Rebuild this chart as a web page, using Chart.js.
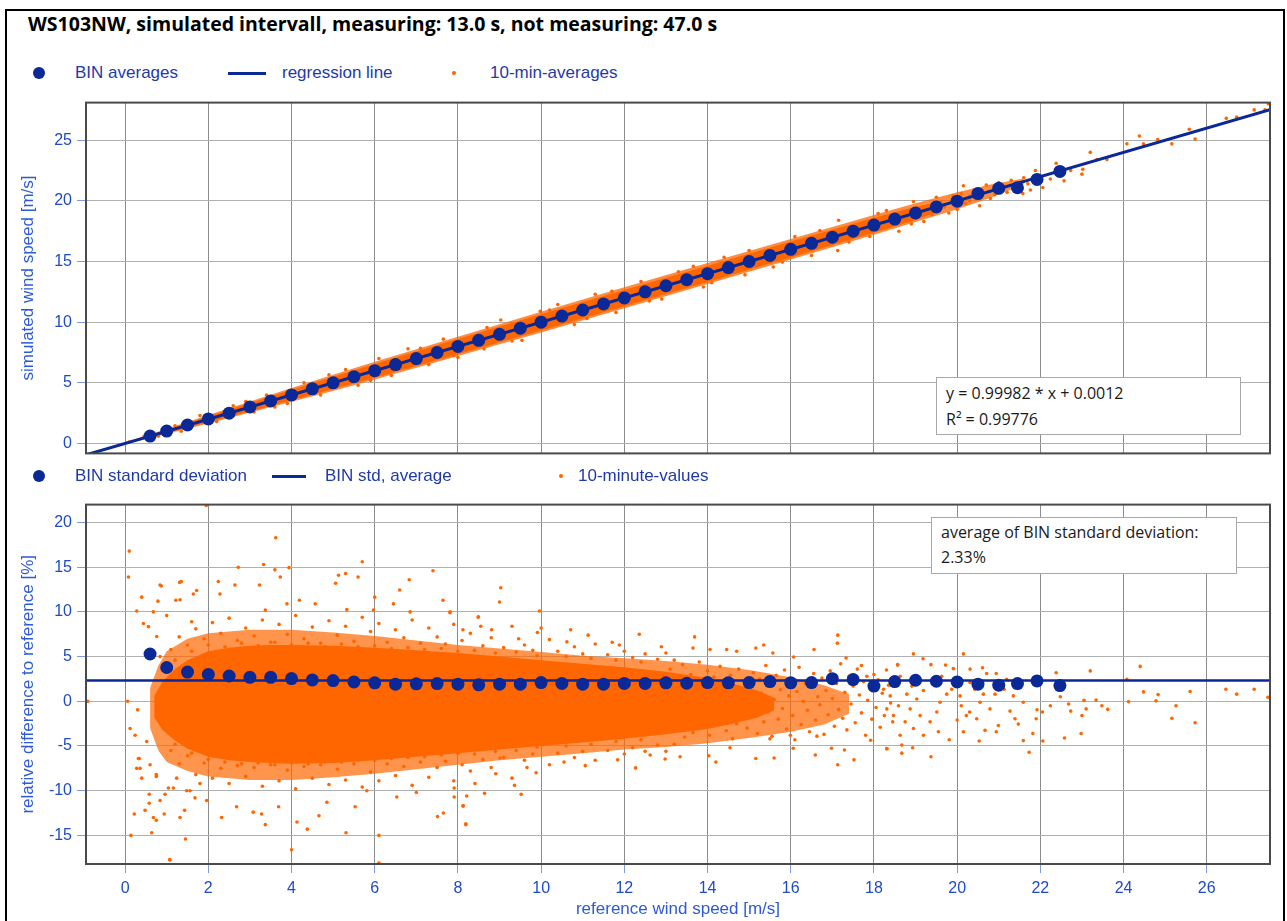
<!DOCTYPE html>
<html lang="en">
<head>
<meta charset="UTF-8">
<title>WS103NW simulated intervall</title>
<script src="https://cdn.jsdelivr.net/npm/chart.js"></script>
<style>
  body { margin: 0; background: #fff; font-family: "Liberation Sans", Arial, sans-serif; }
  #page { position: relative; width: 1287px; height: 921px; overflow: hidden; }
  #frame { position: absolute; left: 5px; top: 9px; width: 1276px; height: 940px; border: 2px solid #000; }
  #title { position: absolute; left: 28px; top: 11px; font: bold 19.5px "Open Sans", sans-serif; line-height: 26px; color: #000; white-space: nowrap; }
  canvas { position: absolute; left: 0; }
  .lg { position: absolute; font-size: 17px; line-height: 20px; color: #1f3aa8; white-space: nowrap; }
  .sym { position: absolute; }
  .dot { width: 12px; height: 12px; border-radius: 50%; background: #0a2896; }
  .bar { height: 3px; background: #0a2896; }
  .small { width: 4px; height: 4px; border-radius: 50%; background: #ff6600; }
  .box { position: absolute; box-sizing: border-box; background: #fff; border: 1px solid #a8a8a8;
         font: 16px "Open Sans", sans-serif; color: #1a1a1a; padding: 2px 9px; z-index: 5; }
</style>
</head>
<body>
<div id="page">
  <div id="frame"></div>
  <div id="title">WS103NW, simulated intervall, measuring: 13.0 s, not measuring: 47.0 s</div>

  <canvas id="topChart" width="1287" height="380" style="top:88px"></canvas>
  <canvas id="bottomChart" width="1287" height="431" style="top:490px"></canvas>

  <!-- legend, top panel -->
  <div class="sym dot" style="left:33px;top:67px"></div>
  <div class="lg" style="left:75px;top:63px">BIN averages</div>
  <div class="sym bar" style="left:228px;top:72px;width:38px"></div>
  <div class="lg" style="left:282px;top:63px">regression line</div>
  <div class="sym small" style="left:452px;top:71px"></div>
  <div class="lg" style="left:490px;top:63px">10-min-averages</div>

  <!-- legend, bottom panel -->
  <div class="sym dot" style="left:33px;top:470px"></div>
  <div class="lg" style="left:75px;top:466px">BIN standard deviation</div>
  <div class="sym bar" style="left:272px;top:475px;width:34px"></div>
  <div class="lg" style="left:325px;top:466px">BIN std, average</div>
  <div class="sym small" style="left:559px;top:474px"></div>
  <div class="lg" style="left:578px;top:466px">10-minute-values</div>

  <div class="box" style="left:936px;top:377px;width:305px;height:58px;line-height:26px">
    y = 0.99982 * x + 0.0012<br>R² = 0.99776
  </div>
  <div class="box" style="left:931px;top:517px;width:306px;height:57px;line-height:25px">
    average of BIN standard deviation:<br>2.33%
  </div>
</div>

<script>
// ---- data ----
var binRefSpeed = [0.6, 1.0, 1.5, 2.0, 2.5, 3.0, 3.5, 4.0, 4.5, 5.0, 5.5, 6.0, 6.5, 7.0, 7.5, 8.0, 8.5, 9.0, 9.5, 10.0,
    10.5, 11.0, 11.5, 12.0, 12.5, 13.0, 13.5, 14.0, 14.5, 15.0, 15.5, 16.0, 16.5, 17.0, 17.5, 18.0, 18.5, 19.0,
    19.5, 20.0, 20.5, 21.0, 21.45, 21.92, 22.47];
var binSimAverage = [0.61, 1.02, 1.52, 2.02, 2.5, 3.01, 3.5, 4.0, 4.5, 5.0, 5.5, 6.0, 6.5, 7.0, 7.5, 8.0, 8.5, 9.0, 9.5, 10.0,
    10.5, 11.0, 11.5, 12.0, 12.5, 13.0, 13.5, 14.0, 14.5, 15.0, 15.5, 16.0, 16.5, 17.0, 17.5, 18.0, 18.5, 19.0,
    19.5, 19.97, 20.6, 21.03, 21.08, 21.77, 22.43];
var binStdDev = [5.29, 3.78, 3.27, 3.01, 2.83, 2.68, 2.68, 2.54, 2.39, 2.32, 2.17, 2.06, 1.91, 1.95, 1.98, 1.91, 1.84,
    1.91, 1.91, 2.09, 2.0, 1.91, 1.91, 2.0, 2.0, 2.06, 2.02, 2.09, 2.06, 2.09, 2.2, 2.06, 2.09, 2.53, 2.43, 1.7,
    2.2, 2.35, 2.24, 2.17, 1.91, 1.8, 1.98, 2.28, 1.76];
var regLineX = [-0.94, 27.52];
var regLineY = [-0.94, 27.51];
var stdAvgX = [-0.94, 27.52];
var stdAvgY = [2.33, 2.33];

// top panel: solid band and its speckled fringe of 10-min averages
var bandCoreSpeed = [0.3, 1.0, 2.0, 3.0, 4.0, 5.0, 6.0, 7.0, 8.0, 9.0, 10.0, 11.0, 12.0, 13.0, 14.0, 15.0, 16.0, 17.0, 18.0, 19.0, 19.6];
var bandCoreUpper = [0.34, 1.12, 2.24, 3.33, 4.42, 5.5, 6.56, 7.6, 8.62, 9.64, 10.66, 11.66, 12.66, 13.66, 14.66, 15.64, 16.64, 17.62, 18.6, 19.52, 19.9];
var bandCoreLower = [0.26, 0.86, 1.74, 2.64, 3.56, 4.48, 5.42, 6.38, 7.36, 8.34, 9.32, 10.32, 11.32, 12.32, 13.32, 14.34, 15.34, 16.36, 17.38, 18.42, 19.2];
var bandFringeSpeed = [0.15, 1.0, 2.0, 3.0, 4.0, 5.0, 6.0, 8.0, 10.0, 12.0, 14.0, 16.0, 18.0, 19.0, 20.0, 20.8, 21.6];
var bandFringeUpper = [0.22, 1.22, 2.34, 3.45, 4.57, 5.67, 6.74, 8.8, 10.85, 12.87, 14.87, 16.86, 18.84, 19.8, 20.7, 21.35, 21.85];
var bandFringeLower = [0.08, 0.77, 1.64, 2.55, 3.43, 4.33, 5.27, 7.2, 9.15, 11.14, 13.14, 15.16, 17.2, 18.25, 19.3, 20.25, 21.35];

// single 10-min averages outside the dense band (top panel)
var minAvgPoints = [[0.1,0.12],[0.45,0.55],[0.8,0.6],[1.2,1.45],[1.35,1.0],[1.8,2.3],[2.2,1.8],[2.6,3.1],[3.1,2.6],
    [3.4,4.0],[3.9,3.3],[4.3,5.0],[4.7,4.0],[5.3,6.1],[5.6,4.8],[6.1,7.0],[6.4,5.6],[6.8,7.8],[7.3,6.5],[7.65,8.6],
    [8.0,7.1],[8.63,7.8],[9.03,10.18],[9.54,8.5],[9.98,10.9],[10.4,11.45],[10.8,9.8],[11.3,12.3],[11.8,10.8],
    [12.4,13.35],[12.9,11.9],[13.66,14.6],[13.9,12.9],[14.4,15.35],[14.9,13.9],[15.58,14.55],[16.1,17.05],
    [16.5,15.5],[17.15,18.4],[17.13,15.9],[17.9,17.06],[18.3,19.2],[18.6,17.5],[18.95,19.95],[19.2,18.3],
    [19.5,20.3],[19.8,19.0],[20.15,21.25],[20.0,19.3],[20.3,20.0],[20.4,20.9],[20.54,19.6],[20.7,21.3],[20.8,20.2],
    [21.0,21.5],[21.2,20.7],[21.58,20.6],[21.76,20.9],[21.88,22.5],[22.06,21.1],[22.24,21.8],[22.38,23.1],
    [22.57,21.65],[22.73,22.5],[23.0,22.2],[23.02,22.6],[23.2,24.0],[23.36,23.4],[23.6,23.4],[24.08,24.7],
    [24.38,25.35],[24.48,24.7],[24.82,25.05],[25.16,24.7],[25.58,25.9],[25.72,25.1],[26.47,26.8],[26.72,26.9],
    [27.14,27.5],[27.4,27.5],[27.48,28.0],[19.3,19.6],[19.6,19.9],[19.9,20.4],[20.1,20.6],[20.3,20.4],[20.6,20.9],
    [20.9,21.2],[21.1,21.0],[21.3,21.7],[21.4,21.3],[21.6,21.9],[21.7,21.4],[19.7,19.5],[19.4,18.9],[20.2,19.8],
    [20.9,20.5],[2.9,3.45],[3.6,3.0],[4.9,5.65],[5.9,5.2],[7.1,7.85],[7.9,7.25],[8.7,9.55],[9.3,8.45],[10.2,11.0],
    [11.1,10.3],[11.7,12.55],[12.6,11.75],[13.3,14.15],[14.1,13.25],[15.0,15.9],[15.8,14.95],[16.7,17.55],[17.4,16.6],
    [18.1,18.95],[18.9,18.1]];

// bottom panel: solid core and dense speckle zone of the 10-minute values
var coreSpeed = [0.7, 0.9, 1.2, 1.5, 2.0, 2.5, 3.0, 3.5, 4.0, 5.0, 6.0, 7.0, 8.0, 9.0, 10.0, 11.0, 12.0, 13.0, 14.0, 14.6, 15.2, 15.6];
var coreUpper = [0.6, 2.2, 3.6, 4.6, 5.6, 6.0, 6.2, 6.3, 6.3, 6.2, 6.0, 5.7, 5.4, 5.0, 4.6, 4.2, 3.8, 3.3, 2.6, 2.0, 1.2, 0.4];
var coreLower = [-1.8, -3.2, -4.4, -5.3, -6.2, -6.6, -6.8, -6.9, -7.0, -6.9, -6.6, -6.2, -5.8, -5.4, -5.0, -4.6, -4.2, -3.7, -3.1, -2.5, -1.8, -1.0];
var denseSpeed = [0.6, 0.8, 1.0, 1.5, 2.0, 3.0, 4.0, 5.0, 6.0, 7.0, 8.0, 9.0, 10.0, 11.0, 12.0, 13.0, 14.0, 15.0, 16.0, 16.8, 17.4];
var denseUpper = [1.5, 4.0, 5.6, 7.0, 7.6, 8.0, 8.0, 7.7, 7.3, 6.8, 6.3, 5.9, 5.5, 5.1, 4.8, 4.5, 4.1, 3.5, 2.7, 1.8, 0.8];
var denseLower = [-3.0, -5.5, -6.8, -7.8, -8.4, -8.8, -8.8, -8.5, -8.1, -7.6, -7.1, -6.6, -6.2, -5.8, -5.4, -5.1, -4.7, -4.1, -3.4, -2.6, -1.4];

// single 10-minute values (bottom panel)
var minuteValuePoints = [
    [-0.9,0],[0.06,0],[0.1,16.8],[0.08,13.9],[0.14,-15.0],[0.22,-12.6],[0.4,11.65],[0.28,10.1],[0.87,12.9],[1.35,13.4],
    [1.08,-17.75],[1.45,-15.4],[0.12,-3.05],[0.24,-3.8],[0.3,-0.96],[0.52,-4.5],[0.32,-6.4],[0.36,-7.5],[0.48,-12.2],
    [0.58,-10.4],[0.68,-13.0],[0.44,8.7],[0.68,10.0],[0.79,11.2],[0.56,8.35],[0.76,7.25],[0.84,5.0],[0.75,-8.2],
    [0.84,-11.1],[0.96,-10.4],[1.16,-9.7],[1.32,-13.0],[1.48,-10.0],[1.22,11.3],[1.64,12.0],[1.6,8.9],[1.0,9.6],
    [1.95,21.9],[3.62,18.3],[2.72,15.0],[3.33,15.3],[3.6,14.7],[3.94,14.95],[5.7,15.6],[7.4,14.6],[5.3,14.3],
    [5.13,14.1],[3.73,13.9],[5.6,13.9],[6.83,13.6],[2.24,13.4],[0.84,13.0],[1.31,13.3],[2.64,13.0],[3.23,13.0],
    [5.06,13.2],[6.6,12.45],[7.64,11.3],[6.0,11.65],[4.19,11.3],[1.72,12.4],[1.32,11.35],[2.28,12.0],[4.57,10.9],
    [5.97,10.2],[6.85,10.0],[7.81,10.0],[8.49,9.45],[6.45,10.9],[3.37,10.2],[3.89,10.9],[5.33,10.25],
    [1.07,-17.7],[4.0,-16.6],[6.1,-18.1],[6.1,-15.0],[5.31,-14.7],[3.37,-13.8],[4.38,-14.3],[8.19,-13.7],[0.64,-14.7],
    [0.75,-13.3],[0.58,-11.4],[0.94,-12.6],[1.43,-12.2],[2.32,-13.0],[2.68,-11.8],[3.08,-12.4],[3.28,-12.6],
    [3.69,-11.8],[4.13,-13.5],[4.66,-12.8],[4.85,-11.3],[5.53,-11.8],[7.51,-12.9],[7.65,-12.5],[8.12,-11.7],
    [5.81,-10.0],[7.0,-10.2],[6.53,-10.7],[8.21,-10.6],[1.68,-10.8],[1.96,-11.1],[0.34,-6.4],[0.28,-7.5],[0.4,-8.6],
    [0.6,-7.1],[0.75,-8.4],[1.04,-9.7],[1.24,-8.6],[1.56,-10.0],[1.8,-9.2],
    [9.03,12.7],[9.0,11.1],[9.96,10.1],[7.81,9.9],[8.49,9.4],[8.55,8.4],[8.81,8.0],[8.12,8.0],[10.0,8.2],[9.91,7.7],
    [10.71,8.0],[11.13,7.4],[12.36,7.5],[13.69,7.2],[10.62,6.65],[9.46,7.0],[11.71,6.6],[11.88,6.3],[12.89,6.1],
    [13.65,5.95],[15.16,5.95],[15.35,6.3],[17.13,7.4],[17.12,6.5],[16.56,5.8],[17.33,4.85],[16.07,4.95],[15.57,5.4],
    [18.57,4.1],[17.7,4.0],[14.06,5.8],[14.46,5.8],[14.7,5.6],[17.83,2.8],
    [8.19,-13.8],[8.13,-11.7],[7.91,-10.7],[7.91,-9.7],[8.64,-10.3],[9.52,-10.4],[9.36,-9.4],[8.41,-9.2],[8.91,-8.1],
    [9.88,-8.0],[9.66,-7.4],[12.27,-7.45],[11.06,-7.2],[11.84,-6.55],[12.98,-6.45],[14.2,-6.8],[14.03,-6.1],
    [15.16,-6.4],[15.6,-6.35],[16.59,-6.0],[17.13,-7.1],[17.52,-6.55],[16.98,-5.25],[17.29,-5.45],[18.31,-5.3],
    [16.06,-5.25],[14.54,-5.2],[13.34,-6.2],[12.62,-6.0],[10.55,-6.8],[9.01,-6.35],[17.92,-4.35],[18.67,-4.9],
    [16.63,-3.9],[15.99,-3.8],[15.5,-4.2],
    [18.95,5.3],[19.18,4.75],[20.15,5.3],[18.57,4.05],[19.37,4.1],[19.72,4.05],[19.91,3.65],[20.31,3.6],[20.61,3.75],
    [20.71,3.1],[20.94,3.1],[21.19,2.45],[22.38,3.2],[23.2,3.4],[24.4,3.9],[24.08,2.45],[24.48,1.05],[24.83,0.75],
    [25.6,1.1],[26.46,1.35],[26.72,0.8],[27.14,1.35],[27.47,0.45],[24.12,-0.05],[24.78,0.05],[25.26,-0.5],
    [25.16,-1.9],[25.72,-2.4],[23.62,-0.9],[23.34,0.15],[23.05,0.1],[23.0,-1.6],[22.98,-3.6],[23.1,-0.85],
    [23.48,-0.5],[22.58,-4.1],[22.06,-4.45],[21.73,-5.7],[19.37,-6.2],[18.67,-5.8],[18.93,-5.2],[18.31,-5.3],
    [20.53,-4.45],[19.81,-4.3],[21.59,-4.4],[22.48,0.5],[22.68,-0.3],[22.73,-1.1],[22.24,-0.5],[22.05,-1.2],
    [21.9,-1.95],[21.92,-0.95],[21.82,-3.6],[21.47,-2.55],[21.39,-1.95],[21.27,-1.1],[20.94,-3.4],[20.99,-2.7],
    [20.67,-3.25],[20.47,-1.95],[20.22,-1.6],[20.1,-0.5],[20.0,-2.1],[20.15,-3.4],[20.3,-1.2],[20.55,-0.1],
    [20.79,-0.85],[21.13,1.35],[20.91,0.8],[20.42,1.35],[20.63,0.8],[20.07,0.6],[19.87,1.35],[19.75,0.8],
    [19.59,-0.1],[19.51,-1.2],[19.35,-2.3],[19.55,-3.4],[19.19,-3.8],[18.95,-3.05],[18.63,-3.8],[18.75,-2.3],
    [18.47,-1.6],[18.31,-0.85],[18.59,-0.5],[18.87,-0.85],[19.11,-1.6],[19.03,0.25],[19.19,1.2],[18.79,0.8],
    [18.39,0.6],[18.23,1.35],[19.43,2.1],[19.63,2.8],[18.63,2.8],[18.91,1.7],[20.31,2.1],[21.35,0.6],[21.59,-0.1],
    [21.51,2.1],
    [1.1,5.8],[1.3,7.2],[1.5,6.3],[1.7,8.1],[1.9,7.0],[2.1,8.8],[2.3,7.6],[2.5,9.3],[2.7,6.8],[2.9,8.2],[3.1,7.3],
    [3.3,9.1],[3.5,6.6],[3.7,8.6],[3.9,7.5],[4.1,9.6],[4.3,7.0],[4.5,8.3],[4.7,6.5],[4.9,9.0],[5.1,7.4],[5.3,8.4],
    [5.5,6.7],[5.7,9.4],[5.9,7.8],[6.1,8.7],[6.3,6.6],[6.5,8.0],[6.7,7.1],[6.9,9.1],[7.1,6.5],[7.3,8.2],[7.5,7.2],
    [7.7,6.4],[7.9,8.6],[8.1,6.8],[8.3,7.6],[8.6,6.2],[8.8,7.1],[9.1,6.0],[9.3,8.4],[9.6,6.3],[9.8,5.7],[10.2,6.9],
    [10.4,5.6],[10.8,6.1],[11.0,5.3],[11.3,6.4],[11.6,5.2],[12.0,5.6],[12.2,4.9],[12.5,5.3],[12.8,4.7],[13.0,5.4],
    [13.2,4.6],[1.2,4.6],[1.6,5.6],[2.0,6.3],[2.4,6.1],[2.8,6.5],[3.2,6.2],[3.6,6.6],[4.0,6.3],[4.4,6.5],[4.8,6.1],
    [5.2,6.4],[5.6,6.1],[6.0,6.2],[6.4,5.9],[6.8,6.0],[7.2,5.8],[7.6,5.9],[8.0,5.6],[8.4,5.7],[8.9,5.4],[9.4,5.5],
    [9.9,5.1],[10.6,5.0],[11.2,4.8],[11.8,4.6],[12.4,4.4],
    [1.1,-5.5],[1.3,-7.0],[1.5,-6.1],[1.7,-8.2],[1.9,-6.9],[2.1,-8.6],[2.3,-7.5],[2.5,-9.2],[2.7,-7.2],[2.9,-8.4],
    [3.1,-7.4],[3.3,-9.5],[3.5,-7.1],[3.7,-8.9],[3.9,-7.7],[4.1,-9.8],[4.3,-7.3],[4.5,-8.6],[4.7,-7.1],[4.9,-9.3],
    [5.1,-7.6],[5.3,-8.8],[5.5,-7.0],[5.7,-9.6],[5.9,-7.9],[6.1,-8.9],[6.3,-7.0],[6.5,-8.3],[6.7,-7.3],[6.9,-9.4],
    [7.1,-6.8],[7.3,-8.5],[7.5,-7.4],[7.7,-6.7],[7.9,-8.9],[8.1,-7.1],[8.3,-7.8],[8.6,-6.5],[8.8,-7.4],[9.1,-6.3],
    [9.3,-8.6],[9.6,-6.6],[9.8,-5.9],[10.2,-7.1],[10.4,-5.8],[10.8,-6.3],[11.0,-5.6],[11.3,-6.6],[11.6,-5.5],
    [12.0,-5.9],[12.2,-5.2],[12.5,-5.6],[12.8,-4.9],[13.0,-5.6],[13.2,-4.8],[1.2,-4.8],[1.6,-5.8],[2.0,-6.5],
    [2.4,-6.8],[2.8,-7.0],[3.2,-6.9],[3.6,-7.1],[4.0,-6.9],[4.4,-7.0],[4.8,-6.8],[5.2,-6.8],[5.6,-6.6],[6.0,-6.6],
    [6.4,-6.4],[6.8,-6.3],[7.2,-6.2],[7.6,-6.0],[8.0,-5.8],[8.4,-5.9],[8.9,-5.6],[9.4,-5.5],[9.9,-5.1],[10.6,-5.0],
    [11.2,-4.8],[11.8,-4.5],[12.4,-4.3],
    [13.1,3.6],[13.15,-3.2],[13.2,2.1],[13.25,-1.4],[13.3,0.8],[13.35,-2.6],[13.4,4.1],[13.45,-4.0],[13.5,1.7],
    [13.55,-0.6],[13.6,3.0],[13.65,-3.5],[13.7,2.4],[13.75,-1.9],[13.8,4.4],[13.85,0.3],[13.9,-2.9],[13.95,1.2],
    [14.0,3.4],[14.05,-3.8],[14.1,-0.9],[14.15,2.7],[14.2,-2.2],[14.25,0.6],[14.3,3.9],[14.35,-1.5],[14.4,1.9],
    [14.45,-3.3],[14.5,-0.2],[14.55,2.9],[14.6,-4.2],[14.65,1.0],[14.7,-2.5],[14.75,3.6],[14.8,-1.1],[14.85,0.4],
    [14.9,2.2],[14.95,-3.0],[15.0,1.5],[15.05,-1.8],[15.1,3.2],[15.15,-0.5],[15.2,-3.6],[15.25,2.5],[15.3,0.9],
    [15.35,-2.3],[15.4,4.0],[15.45,-1.2],[15.5,1.8],[15.55,-3.9],[15.6,0.2],[15.65,2.9],[15.7,-2.0],[15.75,1.3],
    [15.8,-0.8],[15.85,3.5],[15.9,-3.1],[15.95,0.6],[16.0,2.3],[16.05,-1.6],[16.1,-4.3],[16.15,1.1],[16.2,3.8],
    [16.25,-2.6],[16.3,0.0],[16.35,2.0],[16.4,-1.0],[16.45,-3.4],[16.5,1.6],[16.55,3.1],[16.6,-2.1],[16.65,0.5],
    [16.7,-0.4],[16.75,2.6],[16.8,-3.7],[16.85,1.2],[16.9,-1.5],[16.95,3.4],[17.0,0.3],[17.05,-2.8],[17.1,2.0],
    [17.15,-0.9],[17.2,4.2],[17.25,-1.9],[17.3,1.0],[17.35,-3.2],[17.4,2.8],[17.45,-0.3],[17.5,1.7],[17.55,-2.4],
    [17.6,3.6],[17.65,0.7],[17.7,-1.3],[17.75,2.2],[17.8,-3.8],[17.85,0.1],[17.9,1.4],[17.95,-2.0],[18.0,3.0],
    [18.05,-0.7],[18.1,2.4],[18.15,-2.9],[18.2,0.9],[18.25,-1.6],[18.3,3.5],[18.35,1.8],[18.4,-0.2],[18.45,-2.3],
    [18.5,2.6]
];

var xTickStep = 2;
var topYTickStep = 5;
var bottomYTickStep = 5;

// ---- styles ----
var NAVY = '#0a2896';
var ORANGE = '#ff6600';
var TICK_BLUE = '#1f4cc4';
var TITLE_BLUE = '#2d5bd6';
var FONT = '"Liberation Sans", Arial, sans-serif';

function zip(xs, ys) {
    return xs.map(function (x, i) { return { x: x, y: ys[i] }; });
}
function toPoints(pairs) {
    return pairs.map(function (p) { return { x: p[0], y: p[1] }; });
}
// upper edge filled down to the lower edge (next dataset)
function area(xs, upper, lower, color) {
    return [
        { data: zip(xs, upper), showLine: true, borderWidth: 0, pointRadius: 0, backgroundColor: color, fill: '+1' },
        { data: zip(xs, lower), showLine: true, borderWidth: 0, pointRadius: 0 }
    ];
}

// border around the plot area
var plotFrame = {
    id: 'plotFrame',
    afterDatasetsDraw: function (chart) {
        var a = chart.chartArea, ctx = chart.ctx;
        ctx.save();
        ctx.strokeStyle = '#4a4a4a';
        ctx.lineWidth = 2;
        ctx.strokeRect(a.left, a.top, a.right - a.left, a.bottom - a.top);
        ctx.restore();
    }
};

function yAxis(min, max, step, title) {
    return {
        type: 'linear', min: min, max: max,
        afterFit: function (s) { s.width = 86; },
        ticks: { stepSize: step, includeBounds: false, color: TICK_BLUE, padding: 5, font: { size: 16, family: FONT } },
        grid: { color: '#b0b0b0', tickColor: '#7f9be6', tickLength: 9, lineWidth: 1 },
        border: { display: false },
        title: { display: true, text: title, color: TITLE_BLUE, font: { size: 17, family: FONT }, padding: { top: 18, bottom: 0 } }
    };
}

Chart.defaults.animation = false;

new Chart(document.getElementById('topChart'), {
    type: 'scatter',
    data: {
        datasets: [
            { label: 'BIN averages', data: zip(binRefSpeed, binSimAverage), backgroundColor: NAVY, borderWidth: 0, pointRadius: 6.5 },
            { label: 'regression line', data: zip(regLineX, regLineY), showLine: true, borderColor: NAVY, borderWidth: 3, pointRadius: 0 },
            { label: '10-min-averages', data: toPoints(minAvgPoints), backgroundColor: ORANGE, borderWidth: 0, pointRadius: 1.8 }
        ].concat(area(bandCoreSpeed, bandCoreUpper, bandCoreLower, ORANGE))
         .concat(area(bandFringeSpeed, bandFringeUpper, bandFringeLower, 'rgba(255,102,0,0.75)'))
    },
    options: {
        responsive: false, devicePixelRatio: 1,
        layout: { padding: { left: 0, right: 17, top: 8, bottom: 8 } },
        plugins: { legend: { display: false }, tooltip: { enabled: false } },
        scales: {
            x: {
                type: 'linear', min: -0.94, max: 27.52,
                afterFit: function (s) { s.height = 0; },
                ticks: { display: false, stepSize: xTickStep, includeBounds: false },
                grid: { color: '#8c8c8c', drawTicks: false },
                border: { display: false }
            },
            y: yAxis(-0.82, 28.1, topYTickStep, 'simulated wind speed [m/s]')
        }
    },
    plugins: [plotFrame]
});

new Chart(document.getElementById('bottomChart'), {
    type: 'scatter',
    data: {
        datasets: [
            { label: 'BIN standard deviation', data: zip(binRefSpeed, binStdDev), backgroundColor: NAVY, borderWidth: 0, pointRadius: 6.5 },
            { label: 'BIN std, average', data: zip(stdAvgX, stdAvgY), showLine: true, borderColor: NAVY, borderWidth: 2.5, pointRadius: 0 },
            { label: '10-minute-values', data: toPoints(minuteValuePoints), backgroundColor: ORANGE, borderWidth: 0, pointRadius: 1.8 }
        ].concat(area(coreSpeed, coreUpper, coreLower, ORANGE))
         .concat(area(denseSpeed, denseUpper, denseLower, 'rgba(255,102,0,0.7)'))
    },
    options: {
        responsive: false, devicePixelRatio: 1,
        layout: { padding: { left: 0, right: 17, top: 9, bottom: 0 } },
        plugins: { legend: { display: false }, tooltip: { enabled: false } },
        scales: {
            x: {
                type: 'linear', min: -0.94, max: 27.52,
                afterFit: function (s) { s.height = 57; },
                ticks: { stepSize: xTickStep, includeBounds: false, color: TICK_BLUE, padding: 6, maxRotation: 0, font: { size: 16, family: FONT } },
                grid: { color: '#8c8c8c', tickColor: '#7f9be6', tickLength: 9 },
                border: { display: false },
                title: { display: true, text: 'reference wind speed [m/s]', color: TITLE_BLUE, font: { size: 17, family: FONT }, padding: { top: 0, bottom: 1 } }
            },
            y: yAxis(-18.2, 22, bottomYTickStep, 'relative difference to reference [%]')
        }
    },
    plugins: [plotFrame]
});
</script>
</body>
</html>
